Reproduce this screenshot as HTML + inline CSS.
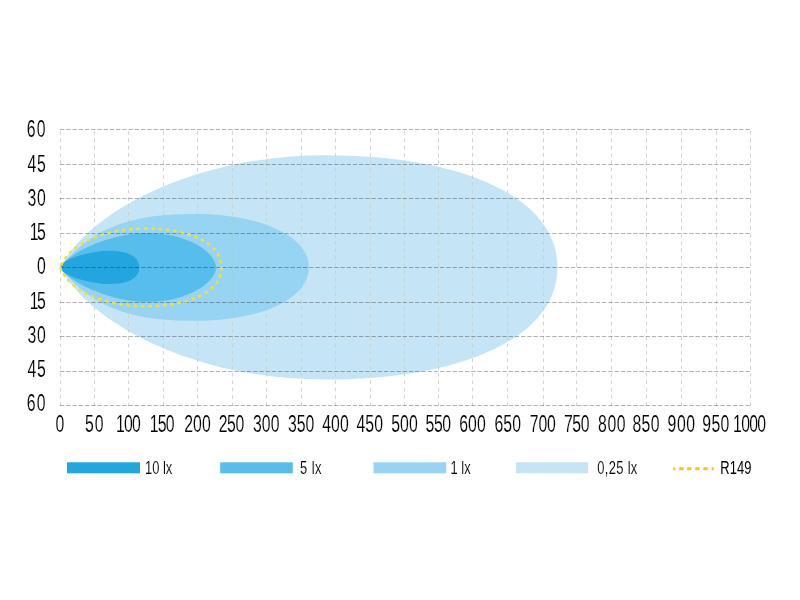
<!DOCTYPE html>
<html><head><meta charset="utf-8"><style>
html,body{margin:0;padding:0;background:#fff;}
svg{display:block;}
</style></head><body>
<svg width="800" height="600" viewBox="0 0 800 600">
<rect width="800" height="600" fill="#fff"/>
<path fill="#c5e5f6" d="M60.3 267.4C91.63 208.07 200.64 155.2 324.76 155.2C467.38 155.2 557.5 199.61 557.5 267.4C557.5 335.19 467.38 379.6 324.76 379.6C200.64 379.6 91.63 326.73 60.3 267.4Z"/>
<path fill="#97d3f3" d="M60.3 267.4C94.83 222.03 142.29 214 196.31 214C254.99 214 308.8 233.59 308.8 267.4C308.8 301.21 254.99 320.8 196.31 320.8C142.29 320.8 94.83 312.77 60.3 267.4Z"/>
<path fill="#56bdec" d="M60.3 267.4C68.75 252.31 111.47 233 146.3 233C189.92 233 216 253.73 216 267.4C216 281.07 189.92 301.8 146.3 301.8C111.47 301.8 68.75 282.49 60.3 267.4Z"/>
<path fill="#23a6df" d="M60.3 267.4C63.49 256.09 100.4 250.8 106.22 250.8C130.66 250.8 139.2 257.53 139.2 267.4C139.2 277.27 130.66 284 106.22 284C100.4 284 63.49 278.71 60.3 267.4Z"/>
<g stroke="#d3d3d3" style="mix-blend-mode:darken" stroke-width="1" stroke-dasharray="3.6 3.73" stroke-dashoffset="5.13" fill="none">
<line x1="60.50" y1="129" x2="60.50" y2="406"/>
<line x1="94.50" y1="129" x2="94.50" y2="406"/>
<line x1="128.50" y1="129" x2="128.50" y2="406"/>
<line x1="163.50" y1="129" x2="163.50" y2="406"/>
<line x1="197.50" y1="129" x2="197.50" y2="406"/>
<line x1="232.50" y1="129" x2="232.50" y2="406"/>
<line x1="266.50" y1="129" x2="266.50" y2="406"/>
<line x1="301.50" y1="129" x2="301.50" y2="406"/>
<line x1="335.50" y1="129" x2="335.50" y2="406"/>
<line x1="370.50" y1="129" x2="370.50" y2="406"/>
<line x1="404.50" y1="129" x2="404.50" y2="406"/>
<line x1="438.50" y1="129" x2="438.50" y2="406"/>
<line x1="472.50" y1="129" x2="472.50" y2="406"/>
<line x1="507.50" y1="129" x2="507.50" y2="406"/>
<line x1="543.50" y1="129" x2="543.50" y2="406"/>
<line x1="576.50" y1="129" x2="576.50" y2="406"/>
<line x1="611.50" y1="129" x2="611.50" y2="406"/>
<line x1="646.50" y1="129" x2="646.50" y2="406"/>
<line x1="681.50" y1="129" x2="681.50" y2="406"/>
<line x1="716.50" y1="129" x2="716.50" y2="406"/>
<line x1="750.50" y1="129" x2="750.50" y2="406"/>
</g>
<g stroke="#b2b2b2" style="mix-blend-mode:multiply" stroke-width="1" stroke-dasharray="4.4 1.83" fill="none">
<line x1="60" y1="129.50" x2="751" y2="129.50"/>
<line x1="60" y1="164.50" x2="751" y2="164.50"/>
<line x1="60" y1="198.50" x2="751" y2="198.50"/>
<line x1="60" y1="233.50" x2="751" y2="233.50"/>
<line x1="60" y1="267.50" x2="751" y2="267.50"/>
<line x1="60" y1="302.50" x2="751" y2="302.50"/>
<line x1="60" y1="336.50" x2="751" y2="336.50"/>
<line x1="60" y1="371.50" x2="751" y2="371.50"/>
<line x1="60" y1="405.50" x2="751" y2="405.50"/>
</g>
<path fill="none" stroke="#f3df3b" stroke-width="2.6" stroke-linecap="round" stroke-dasharray="1.4 5.9" stroke-dashoffset="4.05" d="M60.3 267.4C68.57 244.89 101.18 228.65 145.81 228.65C189.84 228.65 221.5 242.94 221.5 267.4C221.5 291.86 189.84 306.15 145.81 306.15C101.18 306.15 68.57 289.91 60.3 267.4Z"/>
<g font-family="Liberation Sans, sans-serif" font-size="23.6" fill="#000" stroke="#fff" stroke-width="0.15">
<text transform="translate(46.60 136.70) scale(0.67 1)" letter-spacing="1.67" text-anchor="end">60</text>
<text transform="translate(46.60 171.70) scale(0.67 1)" letter-spacing="1.19" text-anchor="end">45</text>
<text transform="translate(46.60 205.70) scale(0.67 1)" letter-spacing="1.19" text-anchor="end">30</text>
<text transform="translate(44.20 239.70) scale(0.67 1)" letter-spacing="-2.39" text-anchor="end">15</text>
<text transform="translate(45.80 273.50) scale(0.67 1)" letter-spacing="0.00" text-anchor="end">0</text>
<text transform="translate(44.20 308.70) scale(0.67 1)" letter-spacing="-2.39" text-anchor="end">15</text>
<text transform="translate(46.60 342.50) scale(0.67 1)" letter-spacing="1.19" text-anchor="end">30</text>
<text transform="translate(46.60 376.50) scale(0.67 1)" letter-spacing="1.19" text-anchor="end">45</text>
<text transform="translate(46.60 410.70) scale(0.67 1)" letter-spacing="1.67" text-anchor="end">60</text>
<text transform="translate(59.88 431.70) scale(0.67 1)" letter-spacing="0.00" text-anchor="middle">0</text>
<text transform="translate(94.77 431.70) scale(0.67 1)" letter-spacing="1.43" text-anchor="middle">50</text>
<text transform="translate(127.95 431.70) scale(0.67 1)" letter-spacing="-1.19" text-anchor="middle">100</text>
<text transform="translate(161.70 431.70) scale(0.67 1)" letter-spacing="-1.19" text-anchor="middle">150</text>
<text transform="translate(197.50 431.70) scale(0.67 1)" letter-spacing="0.00" text-anchor="middle">200</text>
<text transform="translate(231.22 431.70) scale(0.67 1)" letter-spacing="-0.60" text-anchor="middle">250</text>
<text transform="translate(266.25 431.70) scale(0.67 1)" letter-spacing="0.00" text-anchor="middle">300</text>
<text transform="translate(301.12 431.70) scale(0.67 1)" letter-spacing="0.00" text-anchor="middle">350</text>
<text transform="translate(335.50 431.70) scale(0.67 1)" letter-spacing="0.00" text-anchor="middle">400</text>
<text transform="translate(369.75 431.70) scale(0.67 1)" letter-spacing="0.00" text-anchor="middle">450</text>
<text transform="translate(404.50 431.70) scale(0.67 1)" letter-spacing="0.00" text-anchor="middle">500</text>
<text transform="translate(438.10 431.70) scale(0.67 1)" letter-spacing="-0.60" text-anchor="middle">550</text>
<text transform="translate(472.50 431.70) scale(0.67 1)" letter-spacing="0.00" text-anchor="middle">600</text>
<text transform="translate(507.75 431.70) scale(0.67 1)" letter-spacing="0.00" text-anchor="middle">650</text>
<text transform="translate(542.76 431.70) scale(0.67 1)" letter-spacing="-0.24" text-anchor="middle">700</text>
<text transform="translate(576.47 431.70) scale(0.67 1)" letter-spacing="-0.72" text-anchor="middle">750</text>
<text transform="translate(612.03 431.70) scale(0.67 1)" letter-spacing="0.72" text-anchor="middle">800</text>
<text transform="translate(646.11 431.70) scale(0.67 1)" letter-spacing="0.36" text-anchor="middle">850</text>
<text transform="translate(681.62 431.70) scale(0.67 1)" letter-spacing="0.84" text-anchor="middle">900</text>
<text transform="translate(715.89 431.70) scale(0.67 1)" letter-spacing="0.36" text-anchor="middle">950</text>
<text transform="translate(749.19 431.70) scale(0.67 1)" letter-spacing="-1.11" text-anchor="middle">1000</text>
</g>
<rect x="67" y="462.3" width="73" height="11" fill="#23a6df"/>
<rect x="220.2" y="462.3" width="72.6" height="11" fill="#56bdec"/>
<rect x="373.5" y="462.3" width="72.7" height="11" fill="#97d3f3"/>
<rect x="516" y="462.3" width="72.2" height="11" fill="#c5e5f6"/>
<g fill="#f0c814">
<rect x="673.2" y="467.3" width="2.1" height="2.9"/>
<rect x="679.2" y="467.3" width="4.4" height="2.9"/>
<rect x="687.1" y="467.3" width="4.4" height="2.9"/>
<rect x="695.2" y="467.3" width="4.4" height="2.9"/>
<rect x="703.3" y="467.3" width="4.4" height="2.9"/>
<rect x="711.6" y="467.3" width="2.1" height="2.9"/>
</g>
<g font-family="Liberation Sans, sans-serif" font-size="18.5" fill="#000" stroke="#fff" stroke-width="0.12">
<text transform="translate(145 473.5) scale(0.70 1)">10 lx</text>
<text transform="translate(300 473.5) scale(0.70 1)" letter-spacing="0.6">5 lx</text>
<text transform="translate(450.5 473.5) scale(0.70 1)">1 lx</text>
<text transform="translate(597.3 473.5) scale(0.70 1)" letter-spacing="0.45">0,25 lx</text>
<text transform="translate(720.2 473.8) scale(0.70 1)" letter-spacing="0.2" stroke="none">R149</text>
</g>
</svg>
</body></html>
